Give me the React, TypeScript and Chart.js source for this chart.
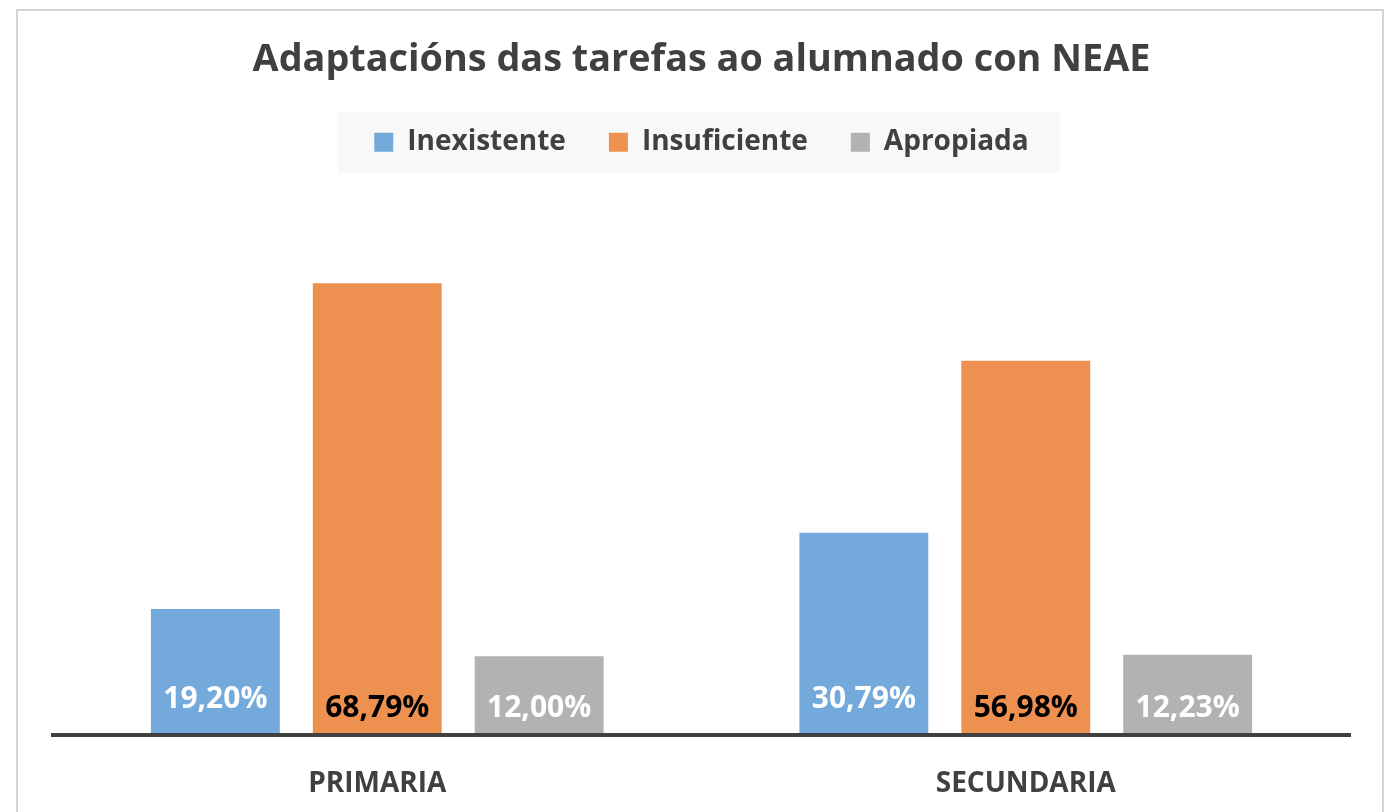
import React, { useEffect, useRef } from "react";
import { Chart, registerables } from "chart.js";

Chart.register(...registerables);

const TITLE = "Adaptacións das tarefas ao alumnado con NEAE";
const CATEGORIES = ["PRIMARIA", "SECUNDARIA"];
const SERIES_NAMES = ["Inexistente", "Insuficiente", "Apropiada"];
const INEXISTENTE = [19.2, 30.79];
const INSUFICIENTE = [68.79, 56.98];
const APROPIADA = [12.0, 12.23];

const COLORS = ["#73A9DB", "#EE9150", "#B2B2B2"];
const LABEL_COLORS = ["#FFFFFF", "#000000", "#FFFFFF"];
const LABEL_BASELINE_OFFSET = [27, 18, 18];
const FONT = "'Open Sans', 'DejaVu Sans', sans-serif";
const TEXT_COLOR = "#404040";

const fmt = (v: number) => v.toFixed(2).replace(".", ",") + "%";

const legendBg = {
  id: "legendBg",
  beforeDraw(chart: any) {
    const ctx = chart.ctx;
    ctx.save();
    ctx.fillStyle = "#F8F8F8";
    ctx.fillRect(338, 112, 722, 61);
    ctx.restore();
  },
};

const barLabels = {
  id: "barLabels",
  afterDatasetsDraw(chart: any) {
    const ctx = chart.ctx;
    ctx.save();
    ctx.font = `bold 30px ${FONT}`;
    ctx.textAlign = "center";
    ctx.textBaseline = "alphabetic";
    chart.data.datasets.forEach((ds: any, di: number) => {
      const meta = chart.getDatasetMeta(di);
      meta.data.forEach((bar: any, i: number) => {
        ctx.fillStyle = LABEL_COLORS[di];
        ctx.fillText(fmt(ds.data[i]), bar.x, bar.base - LABEL_BASELINE_OFFSET[di]);
      });
    });
    ctx.restore();
  },
};

export default function App() {
  const ref = useRef<HTMLCanvasElement>(null);
  useEffect(() => {
    if (!ref.current) return;
    const seriesData = [INEXISTENTE, INSUFICIENTE, APROPIADA];
    const chart = new Chart(ref.current, {
      type: "bar",
      data: {
        labels: CATEGORIES,
        datasets: SERIES_NAMES.map((name, i) => ({
          label: name,
          data: seriesData[i],
          backgroundColor: COLORS[i],
          borderWidth: 0,
          categoryPercentage: 0.749,
          barPercentage: 0.796,
        })),
      },
      options: {
        animation: false,
        responsive: false,
        maintainAspectRatio: false,
        layout: { padding: { left: 53, right: 49, top: 0, bottom: 0 } },
        plugins: {
          title: {
            display: true,
            text: TITLE,
            color: TEXT_COLOR,
            font: { family: FONT, size: 37.8, weight: "bold", lineHeight: 1.2 },
            padding: { top: 38, bottom: 2 },
          },
          legend: {
            display: true,
            position: "top",
            labels: {
              color: TEXT_COLOR,
              font: { family: FONT, size: 28, weight: "bold" },
              boxWidth: 19,
              boxHeight: 19,
              padding: 43,
            },
          },
          tooltip: { enabled: false },
        },
        scales: {
          x: {
            grid: { display: false, drawTicks: false, tickLength: 0 },
            border: { display: true, color: "#404040", width: 4, z: 1 },
            ticks: {
              color: TEXT_COLOR,
              font: { family: FONT, size: 28, weight: "bold" },
              padding: 32,
              maxRotation: 0,
            },
            afterFit: (scale: any) => {
              scale.height = 77;
            },
          },
          y: {
            display: false,
            min: 0,
            max: 86.6,
          },
        },
      },
      plugins: [legendBg, barLabels],
    });
    return () => chart.destroy();
  }, []);

  return (
    <div style={{ position: "fixed", left: 0, top: 0, width: 1399, height: 812, background: "#FFFFFF", overflow: "hidden" }}>
      <div
        style={{
          position: "absolute",
          left: 16,
          top: 9,
          width: 1368,
          height: 840,
          border: "2px solid #D4D4D4",
          boxSizing: "border-box",
        }}
      />
      <canvas ref={ref} width={1399} height={812} style={{ position: "absolute", left: 0, top: 0, width: 1399, height: 812 }} />
    </div>
  );
}
